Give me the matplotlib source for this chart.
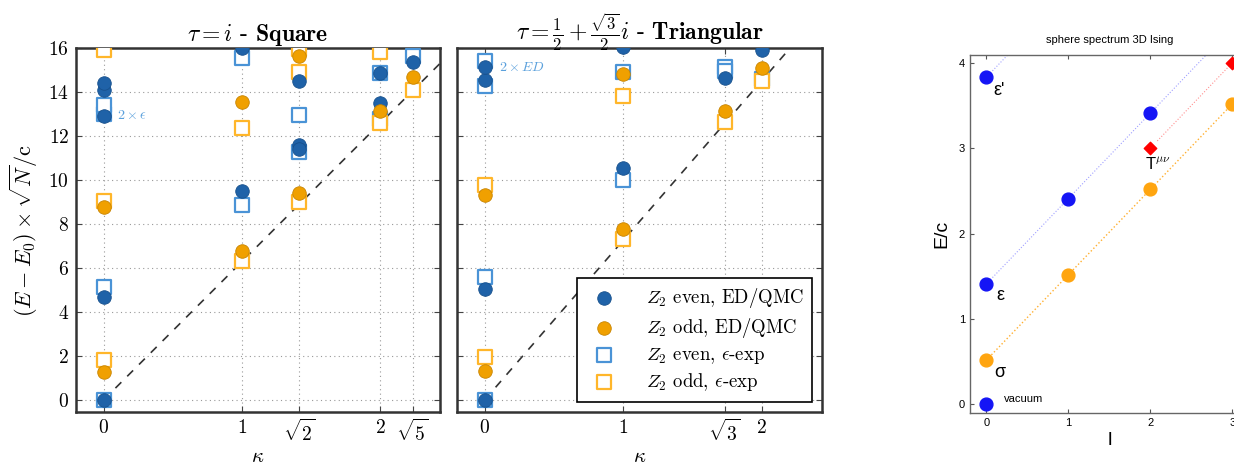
import numpy as np
import matplotlib
matplotlib.use('Agg')
from matplotlib import pyplot as plt

plt.rcParams['mathtext.fontset'] = 'cm'
plt.rcParams['font.family'] = ['cmr10', 'DejaVu Sans']
plt.rcParams['axes.unicode_minus'] = False
plt.rcParams['axes.formatter.use_mathtext'] = True

# ---------------- square lattice (tau = i) ----------------
sq_kappa_ticks = [0, 1, np.sqrt(2), 2, np.sqrt(5)]
sq_kappa_labels = ['$0$', '$1$', r'$\sqrt{2}$', '$2$', r'$\sqrt{5}$']

sq_even_ed_k = [0, 0, 0, 0, 0, 1, 1, np.sqrt(2), np.sqrt(2), np.sqrt(2), 2, 2, np.sqrt(5)]
sq_even_ed_E = [0, 4.7, 12.9, 14.1, 14.42, 9.51, 16.0, 14.52, 11.58, 11.42, 14.88, 13.48, 15.38]
sq_odd_ed_k = [0, 0, 1, 1, np.sqrt(2), np.sqrt(2), 2, np.sqrt(5)]
sq_odd_ed_E = [1.25, 8.77, 6.77, 13.53, 15.62, 9.42, 13.14, 14.67]
sq_even_eps_k = [0, 0, 0, 0, 1, 1, np.sqrt(2), np.sqrt(2), 2, 2, np.sqrt(5)]
sq_even_eps_E = [0, 5.15, 13.0, 13.42, 8.88, 15.53, 12.95, 11.29, 14.88, 12.77, 15.62]
sq_odd_eps_k = [0, 0, 0, 1, 1, np.sqrt(2), np.sqrt(2), np.sqrt(2), 2, 2, np.sqrt(5)]
sq_odd_eps_E = [1.82, 9.05, 15.92, 6.33, 12.38, 15.95, 14.92, 9.01, 15.82, 12.58, 14.1]
sq_slope = 2 * np.pi

# ---------------- triangular lattice ----------------
tr_kappa_ticks = [0, 1, np.sqrt(3), 2]
tr_kappa_labels = ['$0$', '$1$', r'$\sqrt{3}$', '$2$']

tr_even_ed_k = [0, 0, 0, 0, 1, 1, np.sqrt(3), 2]
tr_even_ed_E = [0, 5.03, 14.55, 15.15, 16.05, 10.53, 14.62, 15.9]
tr_odd_ed_k = [0, 0, 1, 1, np.sqrt(3), 2]
tr_odd_ed_E = [1.33, 9.32, 7.76, 14.8, 13.12, 15.08]
tr_even_eps_k = [0, 0, 0, 0, 1, 1, np.sqrt(3), np.sqrt(3), 2]
tr_even_eps_E = [0, 5.58, 14.25, 15.4, 10.0, 14.9, 15.15, 14.95, 14.58]
tr_odd_eps_k = [0, 0, 1, 1, np.sqrt(3), 2]
tr_odd_eps_E = [1.97, 9.77, 7.32, 13.8, 12.65, 14.48]
tr_slope = 4 * np.pi / np.sqrt(3)

# ---------------- sphere spectrum ----------------
sph_blue_l = [0, 0, 0, 1, 2]
sph_blue_E = [0, 1.41, 3.83, 2.41, 3.41]
sph_orange_l = [0, 1, 2, 3]
sph_orange_E = [0.518, 1.518, 2.518, 3.518]
sph_red_l = [2, 3]
sph_red_E = [3.0, 4.0]

c_even = '#1f62a8'
c_odd = '#f0a000'
c_even_sq = '#4a93d6'
c_odd_sq = '#ffb62a'

fig = plt.figure(figsize=(12.34, 4.67), dpi=100)


def lattice_panel(rect, even_ed, odd_ed, even_eps, odd_eps, slope, ticks, labels, title, note, note_y):
	ax = fig.add_axes(rect)
	kk = np.linspace(0, 2.6, 50)
	ax.plot(kk, slope * kk, ls=(0, (5, 5)), color='#333333', lw=1.2, zorder=2)
	ax.scatter(even_eps[0], even_eps[1], marker='s', s=90, facecolor='white',
			   edgecolor=c_even_sq, lw=1.6, zorder=3, label=r'$Z_2$ even, $\epsilon$-exp')
	ax.scatter(odd_eps[0], odd_eps[1], marker='s', s=90, facecolor='white',
			   edgecolor=c_odd_sq, lw=1.6, zorder=3, label=r'$Z_2$ odd, $\epsilon$-exp')
	ax.scatter(even_ed[0], even_ed[1], marker='o', s=95, color=c_even,
			   edgecolor='#17508c', lw=0.6, zorder=4, label=r'$Z_2$ even, ED/QMC')
	ax.scatter(odd_ed[0], odd_ed[1], marker='o', s=95, color=c_odd,
			   edgecolor='#c88400', lw=0.6, zorder=4, label=r'$Z_2$ odd, ED/QMC')
	ax.set_xlim(-0.2, 2.435)
	ax.set_ylim(-0.55, 16)
	ax.set_xticks(ticks)
	ax.set_xticklabels(labels, fontsize=14)
	ax.set_yticks(np.arange(0, 17, 2))
	ax.grid(True, ls=(0, (1, 3)), color='#999999', lw=0.8)
	ax.tick_params(direction='in', top=True, right=True, length=4, color='#444444', pad=5)
	for sp in ax.spines.values():
		sp.set_linewidth(1.8)
		sp.set_color('#333333')
	ax.set_xlabel(r'$\kappa$', fontsize=15, labelpad=2)
	ax.set_title(title, fontsize=17, pad=5)
	ax.text(0.1, note_y, note, color='#5aa0dc', fontsize=10, va='center')
	return ax


ax1 = lattice_panel([0.0616, 0.1178, 0.295, 0.7794],
					(sq_even_ed_k, sq_even_ed_E), (sq_odd_ed_k, sq_odd_ed_E),
					(sq_even_eps_k, sq_even_eps_E), (sq_odd_eps_k, sq_odd_eps_E),
					sq_slope, sq_kappa_ticks, sq_kappa_labels,
					r'$\tau = i$ - $\mathbf{Square}$', r'$2\times\epsilon$', 12.95)
ax1.set_yticklabels(['$%d$' % v for v in range(0, 17, 2)], fontsize=14)
ax1.set_ylabel(r'$(E-E_0)\times\sqrt{N}/\mathrm{c}$', fontsize=16, labelpad=6)

ax2 = lattice_panel([0.3703, 0.1178, 0.2958, 0.7794],
					(tr_even_ed_k, tr_even_ed_E), (tr_odd_ed_k, tr_odd_ed_E),
					(tr_even_eps_k, tr_even_eps_E), (tr_odd_eps_k, tr_odd_eps_E),
					tr_slope, tr_kappa_ticks, tr_kappa_labels,
					r'$\tau = \frac{1}{2} + \frac{\sqrt{3}}{2}i$ - $\mathbf{Triangular}$',
					r'$2\times ED$', 15.1)
ax2.set_yticklabels([])
h, l = ax2.get_legend_handles_labels()
order = [2, 3, 0, 1]
leg = ax2.legend([h[i] for i in order], [l[i] for i in order], loc='lower right',
				 fontsize=13.5, fancybox=False, edgecolor='black', framealpha=1,
				 borderpad=0.45, handletextpad=1.2, labelspacing=0.3,
				 bbox_to_anchor=(1.0, 0.0), borderaxespad=0.55)
leg.get_frame().set_linewidth(1.2)

# ---------------- right panel ----------------
ax3 = fig.add_axes([0.786, 0.1156, 0.226, 0.7666])
ll = np.linspace(0, 3.3, 20)
ax3.plot(ll, 1.41 + ll, ':', color='#a0a0ff', lw=0.8, zorder=1)
ax3.plot(ll, 3.83 + ll, ':', color='#a0a0ff', lw=0.8, zorder=1)
ax3.plot(ll, 0.518 + ll, ':', color='#ffb030', lw=1.0, zorder=1)
ax3.plot(ll[ll >= 2], 1.0 + ll[ll >= 2], ':', color='#ff9090', lw=0.8, zorder=1)
ax3.scatter(sph_blue_l, sph_blue_E, s=85, color='#1515f5', zorder=3)
ax3.scatter(sph_orange_l, sph_orange_E, s=85, color='#ffa510', zorder=3)
ax3.scatter(sph_red_l, sph_red_E, marker='D', s=40, color='#ff0000', zorder=3)
ax3.set_xlim(-0.2, 3.2)
ax3.set_ylim(-0.1, 4.09)
ax3.set_xticks([0, 1, 2, 3])
ax3.set_yticks([0, 1, 2, 3, 4])
sans = ['Liberation Sans', 'DejaVu Sans']
ax3.set_xticklabels(['0', '1', '2', '3'], family=sans, fontsize=8)
ax3.set_yticklabels(['0', '1', '2', '3', '4'], family=sans, fontsize=8)
ax3.tick_params(direction='in', top=True, length=3, color='#555555')
for sp in ax3.spines.values():
	sp.set_color('#666666')
	sp.set_linewidth(1.0)
ax3.set_title('sphere spectrum 3D Ising', family=sans, fontsize=8, pad=9)
ax3.set_xlabel('l', family=sans, fontsize=14, labelpad=3)
ax3.set_ylabel('E/c', family=sans, fontsize=14, labelpad=6)
ax3.text(0.08, 3.68, "ε'", family=sans, fontsize=13, va='center')
ax3.text(0.12, 1.27, 'ε', family=sans, fontsize=13, va='center')
ax3.text(0.1, 0.38, 'σ', family=sans, fontsize=13, va='center')
ax3.text(0.22, 0.06, 'vacuum', family=sans, fontsize=8, va='center')
ax3.text(1.93, 2.82, r'T$^{\mu\nu}$', family=sans, fontsize=12, va='center')

plt.savefig('out.png', dpi=100)
